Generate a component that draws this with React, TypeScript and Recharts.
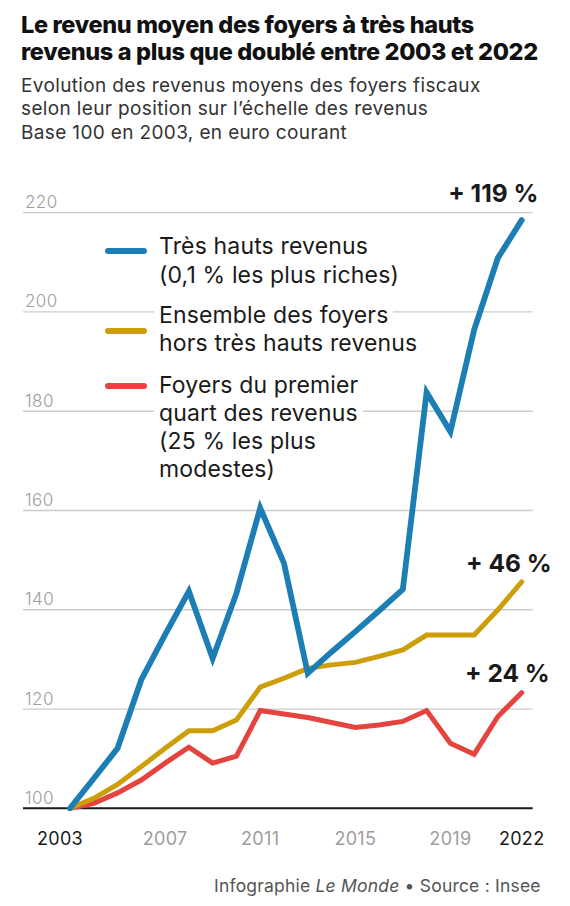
import React from 'react';
import { LineChart, Line, XAxis, YAxis, CartesianGrid, ReferenceLine, Legend } from 'recharts';

const years = [2003, 2004, 2005, 2006, 2007, 2008, 2009, 2010, 2011, 2012, 2013, 2014, 2015, 2016, 2017, 2018, 2019, 2020, 2021, 2022];
const tresHauts = [100, 106, 112.1, 125.9, 135.0, 143.7, 130.2, 143.3, 160.5, 149.4, 127.2, 131.5, 135.6, 139.8, 144.1, 183.8, 175.9, 196.4, 210.9, 218.5];
const ensemble = [100, 102, 104.8, 108.4, 112.1, 115.6, 115.6, 117.8, 124.4, 126.2, 128.2, 128.9, 129.4, 130.6, 131.9, 134.9, 134.9, 134.9, 140.0, 145.6];
const premierQuart = [100, 101, 103.1, 105.7, 109.1, 112.3, 109.1, 110.5, 119.7, 119.0, 118.3, 117.3, 116.3, 116.8, 117.5, 119.7, 113.1, 110.9, 118.5, 123.3];

const xTicks = [2003, 2007, 2011, 2015, 2019, 2022];
const yTicks = [100, 120, 140, 160, 180, 200, 220];

const seriesLabels = {
  tresHauts: ['Très hauts revenus', '(0,1 % les plus riches)'],
  ensemble: ['Ensemble des foyers', 'hors très hauts revenus'],
  premierQuart: ['Foyers du premier', 'quart des revenus', '(25 % les plus', 'modestes)'],
};
const endLabels = { tresHauts: '+ 119 %', ensemble: '+ 46 %', premierQuart: '+ 24 %' };

const COLORS = { tresHauts: '#1d7db5', ensemble: '#cc9f0a', premierQuart: '#e4433e' };
const FONT = "Inter, Roboto, 'Noto Sans', sans-serif";

const data = years.map((year, i) => ({
  year,
  tresHauts: tresHauts[i],
  ensemble: ensemble[i],
  premierQuart: premierQuart[i],
}));

const YTick = (props: any) => {
  const { x, y, payload } = props;
  return (
    <text x={x + 2} y={y - 4.5} fill="#9d9d9d" fontSize={17} fontWeight={300} letterSpacing={0.4} fontFamily={FONT} textAnchor="start">
      {payload.value}
    </text>
  );
};

const XTick = (props: any) => {
  const { x, y, payload } = props;
  const v = payload.value;
  const dark = v === 2003 || v === 2022;
  const dx = v === 2003 ? -10 : 0;
  return (
    <text x={x + dx} y={y + 37} fill={dark ? '#1a1a1a' : '#9d9d9d'} fontSize={18} letterSpacing={0.3} fontFamily={FONT} textAnchor="middle">
      {v}
    </text>
  );
};

const makeEndLabel = (key: keyof typeof endLabels, dx: number, dy: number) => (props: any) => {
  const { x, y, index } = props;
  if (index !== years.length - 1) return <g />;
  return (
    <text x={x + dx} y={y + dy} textAnchor="end" fontSize={24.5} fontWeight={700} fontFamily={FONT} fill="#1a1a1a">
      {endLabels[key]}
    </text>
  );
};

const legendSpan: React.CSSProperties = { background: '#fff', padding: '0 5px' };

const LegendContent = () => {
  const block = (key: keyof typeof seriesLabels, top: number, swatchY: number) => (
    <div key={key}>
      <div
        style={{
          position: 'absolute',
          left: 0,
          top: swatchY - 3,
          width: 42,
          height: 6,
          borderRadius: 3,
          background: COLORS[key],
        }}
      />
      <div
        style={{
          position: 'absolute',
          left: 49,
          top,
          lineHeight: '28.3px',
          fontSize: 23,
          letterSpacing: 0.15,
          whiteSpace: 'nowrap',
          color: '#1a1a1a',
        }}
      >
        {seriesLabels[key].map((t) => (
          <div key={t}>
            <span style={legendSpan}>{t}</span>
          </div>
        ))}
      </div>
    </div>
  );
  return (
    <div style={{ position: 'relative', width: 360, height: 260, fontFamily: FONT }}>
      {block('tresHauts', 2.3, 20.7)}
      {block('ensemble', 70.6, 101)}
      {block('premierQuart', 140.6, 156)}
    </div>
  );
};

export default function App() {
  return (
    <div style={{ position: 'absolute', left: 0, top: 0, width: 570, height: 906, background: '#fff', fontFamily: FONT }}>
      <div
        style={{
          position: 'absolute',
          left: 21,
          top: 11.2,
          fontSize: 23.5,
          fontWeight: 800,
          lineHeight: '27px',
          letterSpacing: -0.35,
          color: '#111',
          whiteSpace: 'nowrap',
          zIndex: 2,
        }}
      >
        <div>Le revenu moyen des foyers à très hauts</div>
        <div>revenus a plus que doublé entre 2003 et 2022</div>
      </div>
      <div
        style={{
          position: 'absolute',
          left: 21,
          top: 73.5,
          fontSize: 19,
          lineHeight: '23.5px',
          letterSpacing: 0.36,
          color: '#333',
          whiteSpace: 'nowrap',
          zIndex: 2,
        }}
      >
        <div>Evolution des revenus moyens des foyers fiscaux</div>
        <div>selon leur position sur l’échelle des revenus</div>
        <div>Base 100 en 2003, en euro courant</div>
      </div>
      <LineChart width={570} height={906} data={data} margin={{ top: 212.7, right: 37.3, left: 23, bottom: 57.7 }}>
        <CartesianGrid vertical={false} stroke="#cccccc" strokeWidth={1.3} />
        <XAxis
          dataKey="year"
          type="number"
          domain={[2003, 2022]}
          ticks={xTicks}
          padding={{ left: 47, right: 11 }}
          height={40}
          axisLine={false}
          tickLine={false}
          tickSize={0}
          tickMargin={0}
          tick={<XTick />}
          interval={0}
        />
        <YAxis
          domain={[100, 220]}
          ticks={yTicks}
          mirror
          width={60}
          axisLine={false}
          tickLine={false}
          tickSize={0}
          tickMargin={0}
          tick={<YTick />}
          interval={0}
        />
        <ReferenceLine y={100} stroke="#1a1a1a" strokeWidth={2} />
        <Legend
          layout="vertical"
          align="center"
          verticalAlign="middle"
          content={<LegendContent />}
          wrapperStyle={{ position: 'absolute', left: 105, top: 230, width: 360, height: 260 }}
        />
        <Line
          dataKey="premierQuart"
          type="linear"
          stroke={COLORS.premierQuart}
          strokeWidth={5}
          strokeLinecap="round"
          dot={false}
          activeDot={false}
          isAnimationActive={false}
          label={makeEndLabel('premierQuart', 28, -10.6)}
        />
        <Line
          dataKey="ensemble"
          type="linear"
          stroke={COLORS.ensemble}
          strokeWidth={5}
          strokeLinecap="round"
          dot={false}
          activeDot={false}
          isAnimationActive={false}
          label={makeEndLabel('ensemble', 30, -10)}
        />
        <Line
          dataKey="tresHauts"
          type="linear"
          stroke={COLORS.tresHauts}
          strokeWidth={5.8}
          strokeLinecap="round"
          dot={false}
          activeDot={false}
          isAnimationActive={false}
          label={makeEndLabel('tresHauts', 16.6, -18.4)}
        />
      </LineChart>
      <div
        style={{
          position: 'absolute',
          right: 29.3,
          top: 875.8,
          fontSize: 17.5,
          lineHeight: '20px',
          letterSpacing: 0.2,
          color: '#555',
          whiteSpace: 'nowrap',
        }}
      >
        Infographie <i>Le Monde</i> • Source : Insee
      </div>
    </div>
  );
}
